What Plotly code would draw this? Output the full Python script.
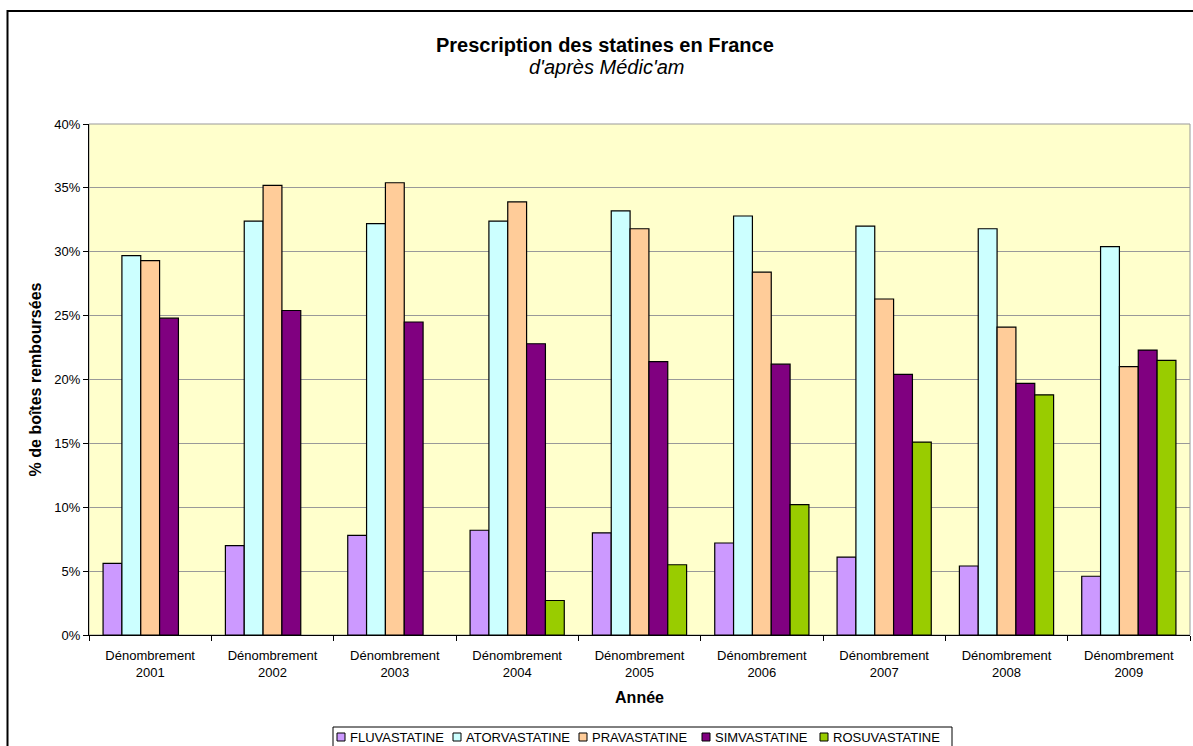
import plotly.graph_objects as go

categories = ["Dénombrement<br>2001", "Dénombrement<br>2002", "Dénombrement<br>2003",
              "Dénombrement<br>2004", "Dénombrement<br>2005", "Dénombrement<br>2006",
              "Dénombrement<br>2007", "Dénombrement<br>2008", "Dénombrement<br>2009"]
fluvastatine = [5.6, 7.0, 7.8, 8.2, 8.0, 7.2, 6.1, 5.4, 4.6]
atorvastatine = [29.7, 32.4, 32.2, 32.4, 33.2, 32.8, 32.0, 31.8, 30.4]
pravastatine = [29.3, 35.2, 35.4, 33.9, 31.8, 28.4, 26.3, 24.1, 21.0]
simvastatine = [24.8, 25.4, 24.5, 22.8, 21.4, 21.2, 20.4, 19.7, 22.3]
rosuvastatine = [None, None, None, 2.7, 5.5, 10.2, 15.1, 18.8, 21.5]
y_ticks = [0, 5, 10, 15, 20, 25, 30, 35, 40]

series_names = ["FLUVASTATINE", "ATORVASTATINE", "PRAVASTATINE", "SIMVASTATINE", "ROSUVASTATINE"]
series_values = [fluvastatine, atorvastatine, pravastatine, simvastatine, rosuvastatine]
series_colors = ["#CC99FF", "#CCFFFF", "#FFCC99", "#800080", "#99CC00"]

# layout geometry (pixels in the 1193x746 figure)
L, R, T, B = 89, 3, 124, 111
W, H = 1193, 746
PW, PH = W - L - R, H - T - B


def px(x):
    return (x - L) / PW


def py(y):
    return (H - B - y) / PH


fig = go.Figure()
for name, vals, col in zip(series_names, series_values, series_colors):
    fig.add_trace(go.Bar(
        x=categories, y=vals, name=name, showlegend=False,
        marker=dict(color=col, line=dict(color="black", width=1.2)),
    ))

font = "Liberation Sans, Arial, sans-serif"

# legend drawn as a boxed row (symbol + label)
legend_sym_x = [337, 453, 579, 702, 820]
legend_txt_x = [348, 464, 590, 713, 831]
shapes = [
    dict(type="rect", xref="paper", yref="paper",
         x0=px(7.5), x1=px(1205), y0=py(800), y1=py(11),
         line=dict(color="black", width=2), fillcolor="rgba(0,0,0,0)", layer="below"),
    dict(type="rect", xref="paper", yref="paper",
         x0=0, x1=1, y0=0, y1=1,
         line=dict(color="#999999", width=1), fillcolor="rgba(0,0,0,0)", layer="below"),
    dict(type="rect", xref="paper", yref="paper",
         x0=px(333), x1=px(952), y0=py(760), y1=py(727),
         line=dict(color="black", width=1), fillcolor="white", layer="above"),
]
annotations = [
    dict(text="<i>d'après Médic'am</i>", xref="paper", yref="paper",
         x=px(606), y=py(67), xanchor="center", yanchor="middle",
         showarrow=False, font=dict(family=font, size=20, color="black")),
]
for name, col, sx, tx in zip(series_names, series_colors, legend_sym_x, legend_txt_x):
    shapes.append(dict(type="rect", xref="paper", yref="paper",
                       x0=px(sx), x1=px(sx + 8), y0=py(741), y1=py(733),
                       line=dict(color="black", width=1), fillcolor=col, layer="above"))
    annotations.append(dict(text=name, xref="paper", yref="paper",
                            x=px(tx), y=py(737.5), xanchor="left", yanchor="middle",
                            showarrow=False, font=dict(family=font, size=13, color="black")))

fig.update_layout(
    width=W, height=H,
    barmode="group", bargap=0.23, bargroupgap=0,
    paper_bgcolor="white", plot_bgcolor="#FFFFCC",
    font=dict(family=font, size=13, color="black"),
    margin=dict(l=L, r=R, t=T, b=B, autoexpand=False),
    showlegend=False,
    title=dict(
        text="<b>Prescription des statines en France</b>",
        x=0.507, xanchor="center", y=0.9397, yanchor="middle",
        font=dict(family=font, size=20, color="black"),
    ),
    annotations=annotations,
    shapes=shapes,
    xaxis=dict(
        title=dict(text="<b>Année</b>", font=dict(size=16), standoff=13),
        tickson="boundaries", ticks="outside", ticklen=5, tickcolor="black",
        ticklabelstandoff=8,
        showline=True, linecolor="black", linewidth=1,
        tickfont=dict(size=13), showgrid=False, automargin=False,
    ),
    yaxis=dict(
        title=dict(text="<b>% de boîtes remboursées</b>", font=dict(size=16), standoff=8),
        range=[0, 40], tickvals=y_ticks, ticktext=[f"{v}%" for v in y_ticks],
        ticks="outside", ticklen=5, tickcolor="black",
        showline=True, linecolor="black", linewidth=1,
        showgrid=True, gridcolor="#999999", gridwidth=1,
        tickfont=dict(size=13), zeroline=False, automargin=False,
    ),
)
fig.write_html("out.html", config={"displayModeBar": False},
               post_script="document.body.style.margin='0';")
